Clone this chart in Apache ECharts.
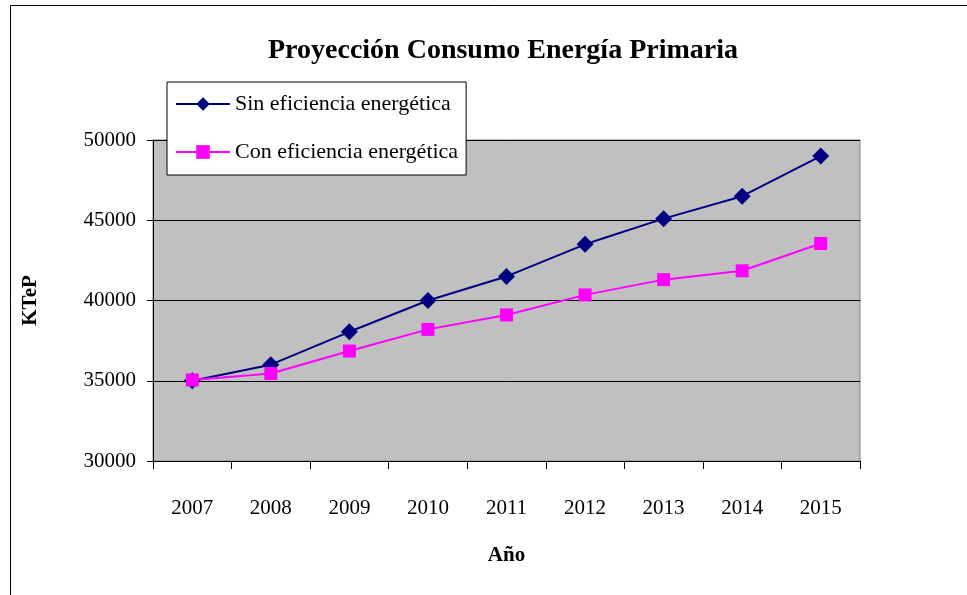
<!DOCTYPE html>
<html><head><meta charset="utf-8">
<script src="https://cdn.jsdelivr.net/npm/echarts@6/dist/echarts.min.js"></script>
<style>html,body{margin:0;padding:0;background:#fff}#c{width:967px;height:595px}</style>
</head><body><div id="c"></div>
<script>
const categories = ['2007','2008','2009','2010','2011','2012','2013','2014','2015'];
const sinEficiencia = [35000, 36000, 38050, 40000, 41500, 43500, 45100, 46500, 49000];
const conEficiencia = [35050, 35450, 36850, 38200, 39100, 40350, 41300, 41850, 43550];
const seriesNames = ['Sin eficiencia energética', 'Con eficiencia energética'];
const yTicks = {min: 30000, max: 50000, interval: 5000};

const F = '"Liberation Serif", "DejaVu Serif", serif';
const chart = echarts.init(document.getElementById('c'));
chart.setOption({
  animation: false,
  backgroundColor: '#fff',
  title: {
    text: 'Proyección Consumo Energía Primaria',
    left: 498, top: 32, textAlign: 'center',
    textStyle: {fontFamily: F, fontSize: 28, fontWeight: 'bold', color: '#000'}
  },
  graphic: [
    {type: 'polyline', shape: {points: [[10.5, 595], [10.5, 5.5], [967, 5.5]]}, style: {stroke: '#000', lineWidth: 1, fill: null}, z: 0}
  ],
  legend: {
    orient: 'vertical', left: 167, top: 82,
    backgroundColor: '#fff', borderColor: '#000', borderWidth: 1,
    padding: [11, 8, 12, 8],
    itemWidth: 54, itemHeight: 17, itemGap: 26,
    textStyle: {fontFamily: F, fontSize: 22, color: '#000'},
    data: seriesNames
  },
  grid: {left: 153, right: 107, top: 140, bottom: 134, show: true, backgroundColor: '#C0C0C0', borderColor: '#808080', borderWidth: 1},
  xAxis: {
    type: 'category', data: categories, boundaryGap: true,
    name: 'Año', nameLocation: 'middle', nameGap: 84,
    nameTextStyle: {fontFamily: F, fontSize: 21, fontWeight: 'bold', color: '#000'},
    axisLine: {lineStyle: {color: '#000', width: 1}},
    axisTick: {show: true, length: 8, lineStyle: {color: '#000'}},
    axisLabel: {fontFamily: F, fontSize: 21, color: '#000', margin: 37},
    splitLine: {show: false}
  },
  yAxis: {
    type: 'value', min: yTicks.min, max: yTicks.max, interval: yTicks.interval,
    name: 'KTeP', nameLocation: 'middle', nameGap: 112, nameRotate: 90,
    nameTextStyle: {fontFamily: F, fontSize: 21, fontWeight: 'bold', color: '#000'},
    axisLine: {show: true, lineStyle: {color: '#000', width: 1}},
    axisTick: {show: true, length: 6, lineStyle: {color: '#000'}},
    axisLabel: {fontFamily: F, fontSize: 21, color: '#000', margin: 17, formatter: v => String(v)},
    splitLine: {show: true, lineStyle: {color: '#000', width: 1}}
  },
  series: [
    {name: seriesNames[0], type: 'line', data: sinEficiencia, symbol: 'diamond', symbolSize: 17,
     itemStyle: {color: '#000080'}, lineStyle: {color: '#000080', width: 2}, z: 3},
    {name: seriesNames[1], type: 'line', data: conEficiencia, symbol: 'rect', symbolSize: 13,
     itemStyle: {color: '#FF00FF'}, lineStyle: {color: '#FF00FF', width: 2}, z: 4}
  ]
});
</script></body></html>
